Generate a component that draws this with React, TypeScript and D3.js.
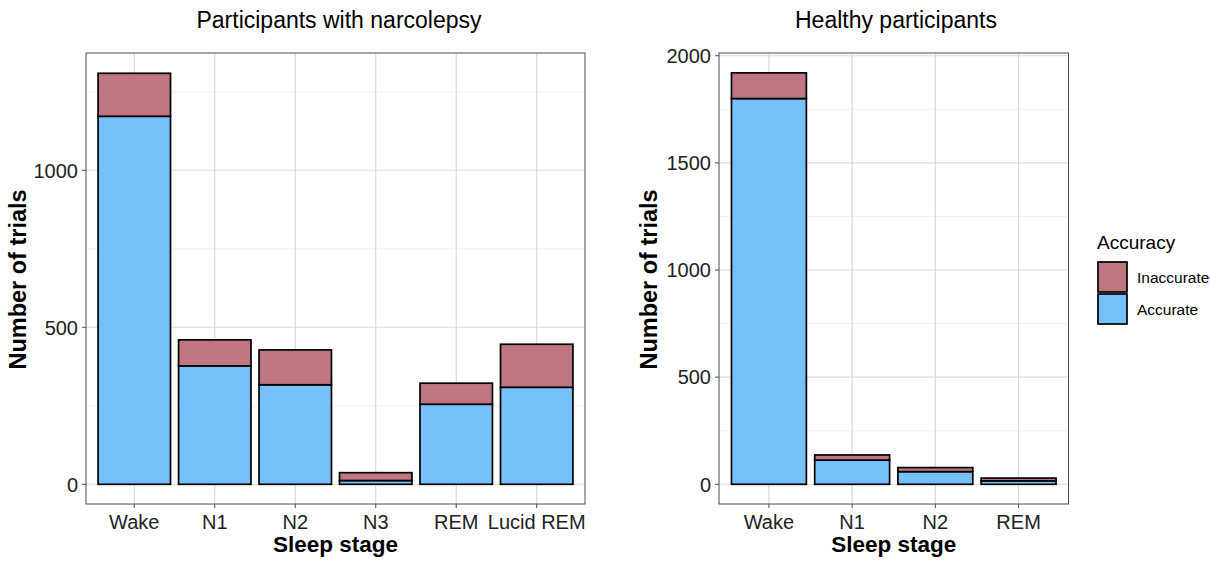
import React from "react";
import * as d3 from "d3";

const narcStages = ["Wake", "N1", "N2", "N3", "REM", "Lucid REM"];
const narcAccurate = [1172, 377, 317, 12, 255, 309];
const narcInaccurate = [137, 83, 111, 25, 67, 137];
const narcTicks = [0, 500, 1000];
const narcMinor = [250, 750, 1250];

const healthyStages = ["Wake", "N1", "N2", "REM"];
const healthyAccurate = [1800, 113, 59, 16];
const healthyInaccurate = [120, 24, 19, 13];
const healthyTicks = [0, 500, 1000, 1500, 2000];
const healthyMinor = [250, 750, 1250, 1750];

const legendLabels = ["Inaccurate", "Accurate"];
const COL_ACC = "#75C0F8";
const COL_INACC = "#BF7680";
const FONT = "'Liberation Sans', Arial, Helvetica, sans-serif";

type PanelProps = {
  title: string;
  stages: string[];
  accurate: number[];
  inaccurate: number[];
  ticks: number[];
  minor: number[];
  left: number;
  right: number;
  yZeroPx: number;
  yRefPx: number;
  yRefVal: number;
  titleX: number;
  yTitleX: number;
};

function Panel(p: PanelProps) {
  const top = 53;
  const bottom = 504;
  const n = p.stages.length;
  const step = (p.right - p.left) / (n + 0.2);
  const x = d3
    .scaleBand<string>()
    .domain(p.stages)
    .range([p.left + 0.1 * step, p.right - 0.1 * step])
    .paddingInner(0.1)
    .paddingOuter(0.05);
  const y = d3
    .scaleLinear()
    .domain([0, p.yRefVal])
    .range([p.yZeroPx, p.yRefPx]);
  const bw = x.bandwidth();
  const cx = (s: string) => (x(s) as number) + bw / 2;
  return (
    <g>
      <text x={p.titleX} y={28} textAnchor="middle" fontSize={23} fill="#000" fontFamily={FONT}>
        {p.title}
      </text>
      <rect x={p.left} y={top} width={p.right - p.left} height={bottom - top} fill="#fff" />
      {p.minor.map((v) => (
        <line key={"mn" + v} x1={p.left} x2={p.right} y1={y(v)} y2={y(v)} stroke="#EBEBEB" strokeWidth={0.8} />
      ))}
      {p.ticks.map((v) => (
        <line key={"mj" + v} x1={p.left} x2={p.right} y1={y(v)} y2={y(v)} stroke="#DCDCDC" strokeWidth={1.1} />
      ))}
      {p.stages.map((s) => (
        <line key={"vg" + s} x1={cx(s)} x2={cx(s)} y1={top} y2={bottom} stroke="#D6D6D6" strokeWidth={1.1} />
      ))}
      {p.stages.map((s, i) => {
        const a = p.accurate[i];
        const t = a + p.inaccurate[i];
        return (
          <g key={"bar" + s}>
            <rect x={x(s)} y={y(a)} width={bw} height={y(0) - y(a)} fill={COL_ACC} stroke="#000" strokeWidth={1.7} />
            <rect x={x(s)} y={y(t)} width={bw} height={y(a) - y(t)} fill={COL_INACC} stroke="#000" strokeWidth={1.7} />
          </g>
        );
      })}
      <rect x={p.left} y={top} width={p.right - p.left} height={bottom - top} fill="none" stroke="#4D4D4D" strokeWidth={1} />
      {p.ticks.map((v) => (
        <g key={"yt" + v}>
          <line x1={p.left - 4} x2={p.left} y1={y(v)} y2={y(v)} stroke="#4D4D4D" strokeWidth={1} />
          <text x={p.left - 8} y={y(v)} dy="0.36em" textAnchor="end" fontSize={20} fill="#222" fontFamily={FONT}>
            {v}
          </text>
        </g>
      ))}
      {p.stages.map((s) => (
        <g key={"xt" + s}>
          <line x1={cx(s)} x2={cx(s)} y1={bottom} y2={bottom + 4} stroke="#4D4D4D" strokeWidth={1} />
          <text x={cx(s)} y={529} textAnchor="middle" fontSize={20} fill="#222" fontFamily={FONT}>
            {s}
          </text>
        </g>
      ))}
      <text
        x={(p.left + p.right) / 2}
        y={552}
        textAnchor="middle"
        fontSize={22.5}
        fontWeight="bold"
        fill="#000"
        fontFamily={FONT}
      >
        Sleep stage
      </text>
      <text
        transform={`translate(${p.yTitleX},${(top + 504 + 2) / 2}) rotate(-90)`}
        dy="0.36em"
        textAnchor="middle"
        fontSize={23.5}
        fontWeight="bold"
        fill="#000"
        fontFamily={FONT}
      >
        Number of trials
      </text>
    </g>
  );
}

export default function App() {
  const legendColors = [COL_INACC, COL_ACC];
  return (
    <svg width={1210} height={563} style={{ display: "block", position: "absolute", left: 0, top: 0 }}>
      <rect width={1210} height={563} fill="#fff" />
      <Panel
        title="Participants with narcolepsy"
        stages={narcStages}
        accurate={narcAccurate}
        inaccurate={narcInaccurate}
        ticks={narcTicks}
        minor={narcMinor}
        left={86}
        right={585}
        yZeroPx={484.3}
        yRefPx={170.3}
        yRefVal={1000}
        titleX={339}
        yTitleX={18}
      />
      <Panel
        title="Healthy participants"
        stages={healthyStages}
        accurate={healthyAccurate}
        inaccurate={healthyInaccurate}
        ticks={healthyTicks}
        minor={healthyMinor}
        left={719}
        right={1068.5}
        yZeroPx={484.3}
        yRefPx={55.7}
        yRefVal={2000}
        titleX={896}
        yTitleX={649}
      />
      <g>
        <text x={1097} y={249} fontSize={19} fill="#000" fontFamily={FONT}>
          Accuracy
        </text>
        {legendLabels.map((l, i) => (
          <g key={l}>
            <rect x={1098} y={262 + i * 32} width={29} height={30} fill={legendColors[i]} stroke="#000" strokeWidth={1.7} />
            <text x={1137} y={277 + i * 32} dy="0.36em" fontSize={15.5} fill="#000" fontFamily={FONT}>
              {l}
            </text>
          </g>
        ))}
      </g>
    </svg>
  );
}
